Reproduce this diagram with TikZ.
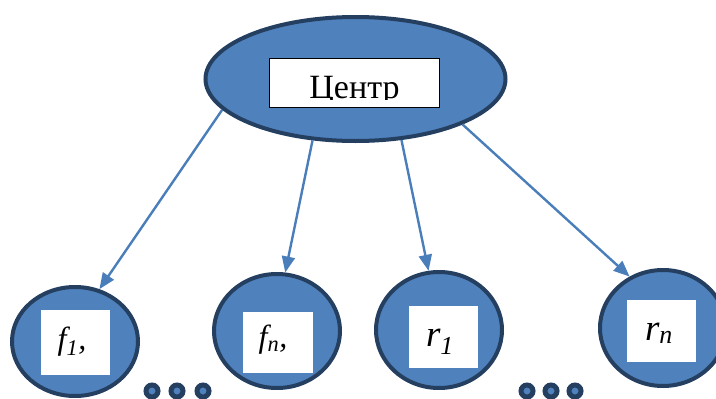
\documentclass[tikz,border=0pt]{standalone}
\usepackage{fontspec}
\setmainfont{Liberation Serif}
\usetikzlibrary{shapes.geometric,arrows.meta}
\definecolor{fillblue}{HTML}{4F81BD}
\definecolor{rimblue}{HTML}{243F60}
\definecolor{linkblue}{HTML}{4A7EBB}
\begin{document}
\begin{tikzpicture}[x=1pt,y=-1pt,
  blob/.style={ellipse, draw=rimblue, fill=fillblue, line width=4pt, inner sep=0pt},
  labelbox/.style={rectangle, fill=white, inner sep=0pt},
  link/.style={draw=linkblue, line width=2.4pt, -{Triangle[length=16pt,width=13pt]}},
  dotmark/.style={circle, draw=rimblue, fill=fillblue, line width=5pt, minimum size=12pt, inner sep=0pt},
  ftext/.style={anchor=base, inner sep=0pt, font=\fontsize{32}{34}\selectfont\itshape},
  rtext/.style={anchor=base, inner sep=0pt, font=\fontsize{37}{40}\selectfont\itshape}]
\useasboundingbox (0,0) rectangle (716,399);

% central node
\node[blob, minimum width=300pt, minimum height=124pt] (center) at (355.5,79) {};
\node[labelbox, draw=black, line width=0.8pt, minimum width=170pt, minimum height=49pt] (cbox) at (354.5,82.5) {};
\begin{scope}
  \clip (269.5,58) rectangle (439.5,99);
  \node[anchor=base, inner sep=0pt, font=\fontsize{34}{36}\selectfont] (ctext) at (354.5,98) {Центр};
\end{scope}

% leaf nodes
\node[blob, minimum width=126pt, minimum height=109pt] (f1) at (75,341.5) {};
\node[blob, minimum width=126pt, minimum height=114pt] (fn) at (277,331) {};
\node[blob, minimum width=126pt, minimum height=116pt] (r1) at (439,330) {};
\node[blob, minimum width=126pt, minimum height=116pt] (rn) at (663,328) {};

\node[labelbox, minimum width=69pt, minimum height=65pt] (f1box) at (75.5,342.5) {};
\node[labelbox, minimum width=70pt, minimum height=61pt] (fnbox) at (278,342.5) {};
\node[labelbox, minimum width=69pt, minimum height=62pt] (r1box) at (443.5,337) {};
\node[labelbox, minimum width=69pt, minimum height=62pt] (rnbox) at (661.5,331) {};

\node[ftext] (f1text) at (72,349) {f\textsubscript{1},};
\node[ftext] (fntext) at (273,347.5) {f\textsubscript{n},};
\node[rtext] (r1text) at (440,346) {r\textsubscript{1}};
\node[rtext] (rntext) at (659,340) {r\textsubscript{n}};

% ellipsis marks
\node[dotmark] (da1) at (152,391) {};
\node[dotmark] (da2) at (177,391) {};
\node[dotmark] (da3) at (203,391) {};
\node[dotmark] (db1) at (527,391) {};
\node[dotmark] (db2) at (551,391) {};
\node[dotmark] (db3) at (575,391) {};

% links
\draw[link] (center.193.6) -- (f1.65.4);
\draw[link] (center.235.6) -- (fn.82.5);
\draw[link] (center.307.9) -- (r1.100.9);
\draw[link] (center.337.8) -- (rn.123);
\end{tikzpicture}
\end{document}
